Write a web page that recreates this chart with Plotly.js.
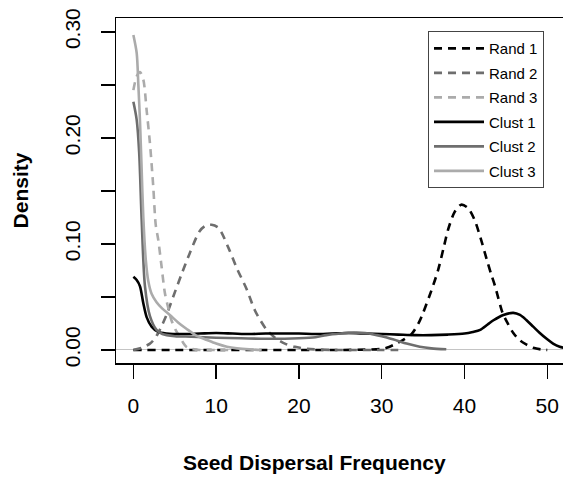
<!DOCTYPE html>
<html>
<head>
<meta charset="utf-8">
<script src="https://cdn.plot.ly/plotly-3.0.1.min.js"></script>
<style>html,body{margin:0;padding:0;background:#fff;}#chart{width:563px;height:477px;}</style>
</head>
<body>
<div id="chart"></div>
<script>
// ---- data ----
const seriesNames = ["Rand 1", "Rand 2", "Rand 3", "Clust 1", "Clust 2", "Clust 3"];

const rand1X = [0,5,10,15,20,25,28,30,30.6,31.5,32.5,33.6,34.5,35.0,36.0,36.8,37.5,38.0,38.8,39.6,40.4,41.2,42.0,42.7,43.2,43.7,44.6,45.3,45.9,46.7,47.5,48.3,49.2,50];
const rand1Y = [0,0,0,0,0,0,0.0003,0.001,0.002,0.005,0.009,0.015,0.026,0.035,0.056,0.075,0.097,0.113,0.130,0.137,0.134,0.123,0.104,0.085,0.072,0.060,0.035,0.024,0.016,0.009,0.005,0.002,0.0005,0];

const rand2X = [0,1,2,2.4,3,4,4.8,5.8,6.8,8,8.7,9.45,10.3,11.5,12.5,13.7,14.7,16.1,17.2,18.3,19.5,21,24,27,30,32];
const rand2Y = [0,0.002,0.006,0.009,0.016,0.033,0.050,0.071,0.091,0.112,0.117,0.118,0.115,0.096,0.077,0.057,0.037,0.019,0.011,0.006,0.003,0.001,0,0,0,0];

const rand3X = [0,0.4,0.8,1.2,1.6,2.0,2.4,2.7,3.0,3.4,3.8,4.2,4.6,5.1,5.6,6.0,6.4,7.0,8,10,12];
const rand3Y = [0.245,0.258,0.262,0.255,0.226,0.195,0.154,0.118,0.104,0.079,0.054,0.040,0.028,0.019,0.0125,0.007,0.003,0.001,0,0,0];

const clust1X = [0,0.4,0.8,1.2,1.6,2.2,3.0,4,6,8,10,12,14,16,18,20,22,24,26,28,30,32,34,36,38,40,41,41.9,42.8,43.5,44.7,45.9,46.7,47.5,48.3,49.1,50,50.7,51.5,52];
const clust1Y = [0.069,0.066,0.060,0.044,0.031,0.022,0.017,0.0155,0.015,0.0155,0.016,0.0155,0.015,0.0155,0.0155,0.0155,0.015,0.0155,0.016,0.0155,0.015,0.0145,0.014,0.014,0.0145,0.0155,0.017,0.019,0.024,0.028,0.033,0.035,0.033,0.028,0.022,0.016,0.010,0.006,0.003,0.002];

const clust2X = [0,0.4,0.7,1.0,1.4,2.0,2.8,3.5,5,7,10,13,16,20,22,23.3,25,26.6,28,29.4,30.5,31.8,33,34.6,36,37.8];
const clust2Y = [0.234,0.217,0.186,0.123,0.060,0.032,0.019,0.015,0.013,0.0125,0.0115,0.011,0.0105,0.011,0.012,0.014,0.0155,0.0163,0.016,0.014,0.012,0.009,0.006,0.003,0.0015,0.0006];

const clust3X = [0,0.4,0.6,0.8,1.0,1.2,1.5,1.8,2.2,2.8,3.5,4.4,5.4,6.4,7.5,8.9,10,11.3,12.5,14,15.5];
const clust3Y = [0.297,0.28,0.25,0.215,0.17,0.125,0.085,0.065,0.053,0.045,0.039,0.033,0.026,0.020,0.014,0.0094,0.006,0.003,0.0015,0.0005,0];

const xTickVals = [0,10,20,30,40,50];
const xTickText = ["0","10","20","30","40","50"];
const yTickVals = [0,0.05,0.10,0.15,0.20,0.25,0.30];
const yTickText = ["0.00","","0.10","","0.20","","0.30"];
const xTitle = "Seed Dispersal Frequency";
const yTitle = "Density";

// ---- styles ----
const FONT = "Liberation Sans, Arial, sans-serif";
const colors = ["#000000", "#6e6e6e", "#ababab", "#000000", "#6e6e6e", "#ababab"];
const dashes = ["8px,6px", "8px,6px", "8px,6px", "solid", "solid", "solid"];
const xs = [rand1X, rand2X, rand3X, clust1X, clust2X, clust3X];
const ys = [rand1Y, rand2Y, rand3Y, clust1Y, clust2Y, clust3Y];

const traces = seriesNames.map((name, i) => ({
  type: "scatter",
  mode: "lines",
  name: name,
  x: xs[i],
  y: ys[i],
  legendgroup: "g" + i,
  line: {color: colors[i], width: 2.6, dash: dashes[i], shape: "spline", smoothing: 0.8},
  hoverinfo: "skip"
}));

const layout = {
  width: 563,
  height: 477,
  margin: {l: 116, r: 0, t: 18, b: 114, pad: 0},
  paper_bgcolor: "#ffffff",
  plot_bgcolor: "#ffffff",
  font: {family: FONT, color: "#000"},
  showlegend: true,
  legend: {
    x: 0.698, y: 0.962, xanchor: "left", yanchor: "top",
    bgcolor: "#ffffff", bordercolor: "#444", borderwidth: 1,
    font: {family: FONT, size: 15, color: "#000"},
    tracegroupgap: 2,
    itemwidth: 50,
    traceorder: "grouped"
  },
  xaxis: {
    range: [-2.1, 51.9],
    tickmode: "array", tickvals: xTickVals, ticktext: xTickText,
    ticks: "outside", ticklen: 14, tickwidth: 1.5, tickcolor: "#000",
    ticklabelstandoff: 9,
    tickfont: {family: FONT, size: 21, color: "#000"},
    showline: true, linecolor: "#000", linewidth: 1.5, mirror: true,
    showgrid: false, zeroline: false,
    automargin: false, fixedrange: true
  },
  yaxis: {
    range: [-0.0123, 0.313],
    tickmode: "array", tickvals: yTickVals, ticktext: yTickText,
    ticks: "outside", ticklen: 14, tickwidth: 1.5, tickcolor: "#000",
    tickangle: -90,
    ticklabelstandoff: 12,
    tickfont: {family: FONT, size: 21, color: "#000"},
    showline: true, linecolor: "#000", linewidth: 1.5, mirror: false,
    showgrid: false,
    zeroline: true, zerolinecolor: "#c4c4c4", zerolinewidth: 1,
    title: {text: "<b>" + yTitle + "</b>", font: {family: FONT, size: 21, color: "#000"}, standoff: 26},
    automargin: false, fixedrange: true
  },
  annotations: [{
    text: "<b>" + xTitle + "</b>",
    xref: "paper", yref: "paper", x: 0.445, y: -0.287,
    xanchor: "center", yanchor: "middle", showarrow: false,
    font: {family: FONT, size: 21, color: "#000"}
  }]
};

Plotly.newPlot("chart", traces, layout, {displayModeBar: false, staticPlot: true});
</script>
</body>
</html>
